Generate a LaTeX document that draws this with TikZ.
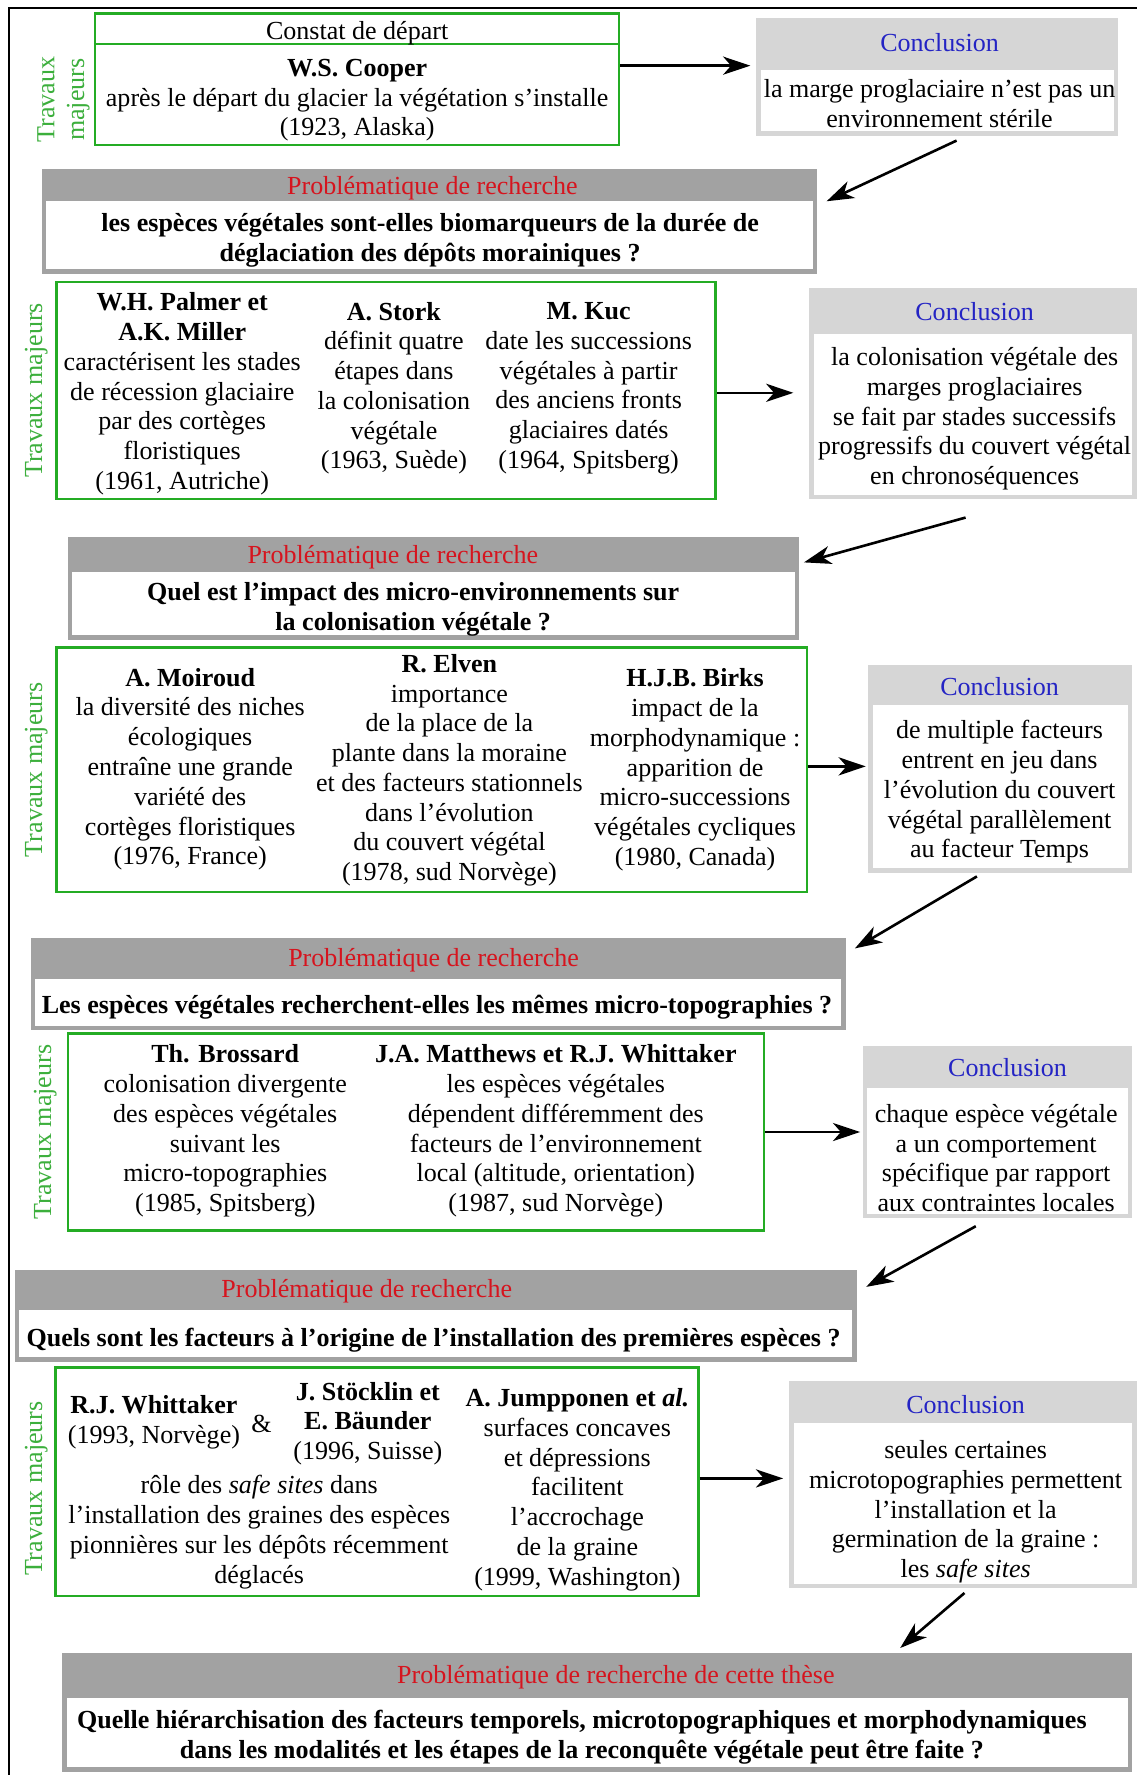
\documentclass[tikz,border=0pt]{standalone}
\usepackage{fontspec}
\setmainfont{Liberation Serif}
\usetikzlibrary{arrows.meta,calc}
\definecolor{gborder}{RGB}{36,172,36}
\definecolor{gtext}{RGB}{60,175,60}
\definecolor{pgray}{RGB}{162,162,162}
\definecolor{cgray}{RGB}{214,214,214}
\definecolor{tred}{RGB}{214,20,30}
\definecolor{tblue}{RGB}{36,36,196}
\newcommand\bodyfont{\fontsize{23}{26.3}\selectfont}
\begin{document}
\begin{tikzpicture}[x=1pt,y=-1pt,
  gbox/.style={draw=gborder,line width=2pt,inner sep=0pt},
  gline/.style={draw=gborder,line width=2pt},
  base/.style={font=\bodyfont,align=center,inner sep=0pt},
  txt/.style={base,yshift=-2.5pt},
  trav/.style={base,text=gtext,rotate=90},
  pout/.style={fill=pgray,inner sep=0pt},
  cout/.style={fill=cgray,inner sep=0pt},
  inwhite/.style={fill=white,inner sep=0pt},
  ptitle/.style={txt,text=tred},
  ctitle/.style={txt,text=tblue},
  ptext/.style={txt,font=\bodyfont\bfseries},
  arr/.style={line width=2.3pt,-{Stealth[length=24pt,width=16pt,inset=7pt]}},
]
\useasboundingbox (0,0) rectangle (1004,1568);
\fill[white] (0,0) rectangle (1004,1568);
\draw[line width=1.6pt] (8,1568) -- (8,7) -- (1004,7);

% ---------------- block 1
\node[gbox,minimum width=463pt,minimum height=116pt] (g1) at (315.5,70) {};
\draw[gline] ($(g1.north west)+(0,28)$) -- ($(g1.north east)+(0,28)$);
\node[txt] (g1h) at (315.5,27) {Constat de départ};
\node[txt] (g1t) at (315.5,86) {\textbf{W.S. Cooper}\\après le départ du glacier la végétation s’installe\\(1923, Alaska)};
\node[trav] (tm1) at (56,88) {Travaux\\majeurs};

\node[cout,minimum width=320pt,minimum height=104pt] (c1) at (828,68) {};
\node[inwhite,minimum width=312pt,minimum height=54pt] (c1w) at (828,89) {};
\node[ctitle] (c1h) at (830,35) {Conclusion};
\node[txt] (c1t) at (830,89) {la marge proglaciaire n’est pas un\\environnement stérile};
\draw[arr,shorten >=5pt] ([yshift=12pt]g1.east) -- ([yshift=12pt]g1.east -| c1.west);

\node[pout,minimum width=685pt,minimum height=93pt] (p1) at (379.5,195.5) {};
\node[inwhite,minimum width=677pt,minimum height=60pt] (p1w) at (379.5,208) {};
\node[ptitle] (p1h) at (382,164) {Problématique de recherche};
\node[ptext] (p1t) at (380,210) {les espèces végétales sont-elles biomarqueurs de la durée de\\déglaciation des dépôts morainiques ?};
\draw[arr] ([xshift=17pt,yshift=-4pt]c1.south) -- ([xshift=8pt,yshift=-29pt]p1.north east);

% ---------------- block 2
\node[gbox,minimum width=582pt,minimum height=192pt] (g2) at (341,345) {};
\node[trav] (tm2) at (32,345) {Travaux majeurs};
\node[txt] (g2a) at (161,345.5) {\textbf{W.H. Palmer et}\\\textbf{A.K. Miller}\\caractérisent les stades\\de récession glaciaire\\par des cortèges\\floristiques\\(1961, Autriche)};
\node[txt] (g2b) at (348,340.5) {\textbf{A. Stork}\\définit quatre\\étapes dans\\la colonisation\\végétale\\(1963, Suède)};
\node[txt] (g2c) at (520,340.5) {\textbf{M. Kuc}\\date les successions\\végétales à partir\\des anciens fronts\\glaciaires datés\\(1964, Spitsberg)};

\node[cout,minimum width=289pt,minimum height=187pt] (c2) at (859.5,347.5) {};
\node[inwhite,minimum width=281pt,minimum height=142pt] (c2w) at (859.5,366) {};
\node[ctitle] (c2h) at (861,273) {Conclusion};
\node[txt] (c2t) at (861,367.5) {la colonisation végétale des\\marges proglaciaires\\se fait par stades successifs\\progressifs du couvert végétal\\en chronoséquences};
\draw[arr,shorten >=14pt] ([yshift=-2pt]g2.east) -- ([yshift=-2pt]g2.east -| c2.west);

\node[pout,minimum width=646pt,minimum height=91pt] (p2) at (383,519.5) {};
\node[inwhite,minimum width=638pt,minimum height=56pt] (p2w) at (383,533) {};
\node[ptitle] (p2h) at (347,490) {Problématique de recherche};
\node[ptext] (p2t) at (365,536) {Quel est l’impact des micro-environnements sur\\la colonisation végétale ?};
\draw[arr] ([xshift=-6.5pt,yshift=-16pt]c2.south) -- ([xshift=4pt,yshift=-23pt]p2.north east);

% ---------------- block 3
\node[gbox,minimum width=663pt,minimum height=216pt] (g3) at (381.5,680) {};
\node[trav] (tm3) at (32,680) {Travaux majeurs};
\node[txt] (g3a) at (168,677) {\textbf{A. Moiroud}\\la diversité des niches\\écologiques\\entraîne une grande\\variété des\\cortèges floristiques\\(1976, France)};
\node[txt] (g3b) at (397,678) {\textbf{R. Elven}\\importance\\de la place de la\\plante dans la moraine\\et des facteurs stationnels\\dans l’évolution\\du couvert végétal\\(1978, sud Norvège)};
\node[txt] (g3c) at (614,677.5) {\textbf{H.J.B. Birks}\\impact de la\\morphodynamique :\\apparition de\\micro-successions\\végétales cycliques\\(1980, Canada)};

\node[cout,minimum width=233pt,minimum height=184pt] (c3) at (883.5,679) {};
\node[inwhite,minimum width=225pt,minimum height=144pt] (c3w) at (883.5,695) {};
\node[ctitle] (c3h) at (883,604) {Conclusion};
\node[txt] (c3t) at (883,697) {de multiple facteurs\\entrent en jeu dans\\l’évolution du couvert\\végétal parallèlement\\au facteur Temps};
\draw[arr,shorten >=2pt] ([yshift=3pt]g3.east) -- ([yshift=3pt]g3.east -| c3.west);

\node[pout,minimum width=720pt,minimum height=81pt] (p3) at (387,869.5) {};
\node[inwhite,minimum width=712pt,minimum height=41pt] (p3w) at (387,885.5) {};
\node[ptitle] (p3h) at (383,846) {Problématique de recherche};
\node[ptext] (p3t) at (386,887) {Les espèces végétales recherchent-elles les mêmes micro-topographies ?};
\draw[arr] ([xshift=-20.5pt,yshift=-3pt]c3.south) -- ([xshift=8pt,yshift=-9pt]p3.north east);

% ---------------- block 4
\node[gbox,minimum width=615pt,minimum height=174pt] (g4) at (367.5,1000) {};
\node[trav] (tm4) at (40,1000) {Travaux majeurs};
\node[txt] (g4a) at (199,996.5) {\textbf{Th. Brossard}\\colonisation divergente\\des espèces végétales\\suivant les\\micro-topographies\\(1985, Spitsberg)};
\node[txt] (g4b) at (491,996.5) {\textbf{J.A. Matthews et R.J. Whittaker}\\les espèces végétales\\dépendent différemment des\\facteurs de l’environnement\\local (altitude, orientation)\\(1987, sud Norvège)};

\node[cout,minimum width=238pt,minimum height=152pt] (c4) at (881,1000) {};
\node[inwhite,minimum width=230pt,minimum height=111pt] (c4w) at (881,1016.5) {};
\node[ctitle] (c4h) at (890,941) {Conclusion};
\node[txt] (c4t) at (880,1020.5) {chaque espèce végétale\\a un comportement\\spécifique par rapport\\aux contraintes locales};
\draw[arr,shorten >=2pt] (g4.east) -- (g4.east -| c4.west);

\node[pout,minimum width=744pt,minimum height=81pt] (p4) at (385,1162.5) {};
\node[inwhite,minimum width=736pt,minimum height=42pt] (p4w) at (385,1178) {};
\node[ptitle] (p4h) at (324,1138) {Problématique de recherche};
\node[ptext] (p4t) at (383,1181) {Quels sont les facteurs à l’origine de l’installation des premières espèces ?};
\draw[arr] ([xshift=-19pt,yshift=-7pt]c4.south) -- ([xshift=8pt,yshift=-15pt]p4.north east);

% ---------------- block 5
\node[gbox,minimum width=568pt,minimum height=202pt] (g5) at (333,1309) {};
\node[trav] (tm5) at (32,1315) {Travaux majeurs};
\node[txt] (g5a) at (136,1254) {\textbf{R.J. Whittaker}\\(1993, Norvège)};
\node[txt] (g5amp) at (231,1255) {\&};
\node[txt] (g5b) at (325,1255) {\textbf{J. Stöcklin et}\\\textbf{E. Bäunder}\\(1996, Suisse)};
\node[txt] (g5c) at (229,1351) {rôle des \textit{safe sites} dans\\l’installation des graines des espèces\\pionnières sur les dépôts récemment\\déglacés};
\node[txt] (g5d) at (510,1313.5) {\textbf{A. Jumpponen et \textit{al.}}\\surfaces concaves\\et dépressions\\facilitent\\l’accrochage\\de la graine\\(1999, Washington)};

\node[cout,minimum width=307pt,minimum height=183pt] (c5) at (850.5,1311.5) {};
\node[inwhite,minimum width=299pt,minimum height=142pt] (c5w) at (850.5,1328) {};
\node[ctitle] (c5h) at (853,1238) {Conclusion};
\node[txt] (c5t) at (853,1333) {seules certaines\\microtopographies permettent\\l’installation et la\\germination de la graine :\\les \textit{safe sites}};
\draw[arr,shorten >=5pt] ([yshift=3pt]g5.east) -- ([yshift=3pt]g5.east -| c5.west);

\node[pout,minimum width=945pt,minimum height=105pt] (p5) at (527.5,1512.5) {};
\node[inwhite,minimum width=937pt,minimum height=61pt] (p5w) at (527.5,1530.5) {};
\node[ptitle] (p5h) at (544,1479) {Problématique de recherche de cette thèse};
\node[ptext] (p5t) at (514,1532) {Quelle hiérarchisation des facteurs temporels, microtopographiques et morphodynamiques\\dans les modalités et les étapes de la reconquête végétale peut être faite ?};
\draw[arr] ([xshift=1.5pt,yshift=-4pt]c5.south) -- ([xshift=-205pt,yshift=4pt]p5.north east);
\end{tikzpicture}
\end{document}
